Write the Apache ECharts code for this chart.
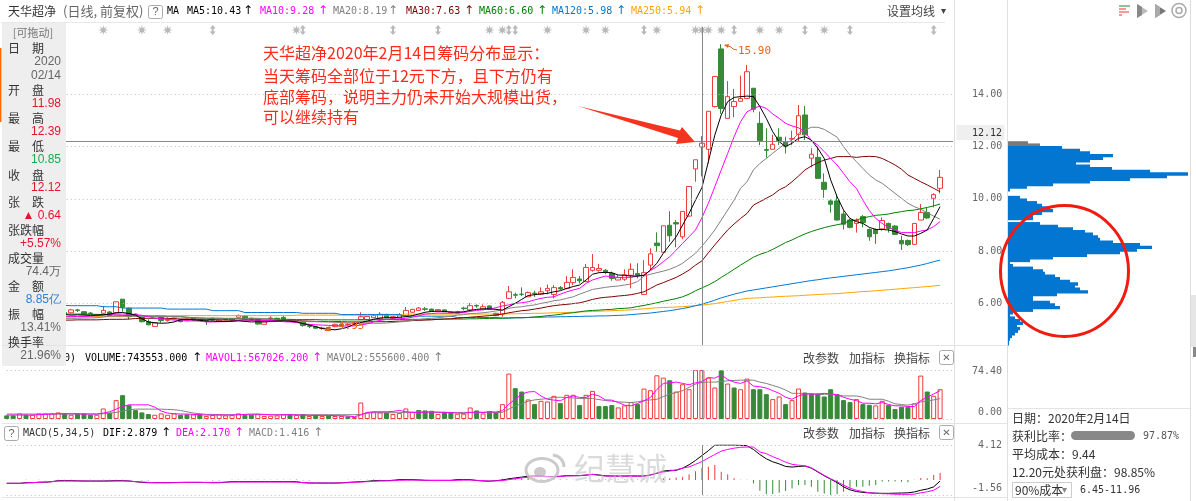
<!DOCTYPE html>
<html><head><meta charset="utf-8">
<style>html,body{margin:0;padding:0;background:#fff}#c{width:1196px;height:501px}</style>
<script src="https://cdn.jsdelivr.net/npm/echarts@6/dist/echarts.min.js"></script>
</head><body><div id="c"></div>
<script>
const open=[5.70,5.66,5.60,5.68,5.60,5.64,5.68,5.66,5.62,5.66,
5.65,5.76,5.69,5.64,5.54,5.63,5.68,5.65,6.17,5.82,
5.60,5.47,5.31,5.13,5.47,5.36,5.42,5.40,5.36,5.44,
5.37,5.35,5.44,5.32,5.38,5.38,5.48,5.53,5.44,5.40,
5.21,5.43,5.44,5.47,5.35,5.36,5.29,5.15,5.12,5.05,
5.06,5.12,5.20,5.19,5.22,5.39,5.39,5.46,5.44,5.59,
5.44,5.46,5.54,5.67,5.74,5.80,5.79,5.72,5.76,5.65,
5.63,5.83,5.76,5.93,5.79,5.91,5.63,5.60,6.20,6.34,
6.36,6.26,6.40,6.36,6.49,6.35,6.61,6.58,6.80,6.94,
6.84,7.27,7.27,7.27,7.15,6.90,6.93,7.08,7.15,6.35,
7.47,8.31,7.96,8.99,9.09,8.55,9.34,11.14,11.98,11.89,
13.52,15.72,13.07,13.52,13.72,13.83,14.22,12.88,11.88,11.89,
12.35,12.18,12.28,12.46,13.20,11.55,11.58,10.63,9.92,9.92,
9.42,9.19,9.06,9.32,8.83,8.83,8.85,9.06,8.96,8.41,
8.41,8.26,9.19,9.48,10.02,10.40];
const close=[5.66,5.64,5.68,5.62,5.66,5.70,5.72,5.70,5.66,5.60,
5.76,5.74,5.60,5.62,5.56,5.74,5.55,6.07,5.86,5.50,
5.55,5.31,5.19,5.26,5.35,5.40,5.44,5.31,5.40,5.37,
5.39,5.33,5.37,5.37,5.40,5.41,5.55,5.40,5.37,5.22,
5.31,5.45,5.37,5.37,5.38,5.33,5.16,5.13,5.06,5.07,
5.09,5.21,5.17,5.21,5.24,5.50,5.51,5.54,5.59,5.46,
5.50,5.57,5.74,5.78,5.83,5.78,5.72,5.77,5.69,5.67,
5.69,5.81,5.92,5.91,5.88,5.78,5.54,6.05,6.45,6.32,
6.35,6.42,6.38,6.45,6.58,6.61,6.56,6.81,7.00,6.87,
7.38,7.38,7.34,7.19,6.96,6.99,7.10,7.31,7.08,7.18,
7.90,8.21,8.97,8.59,9.04,9.52,10.47,11.49,12.12,13.34,
14.67,13.45,13.90,13.71,13.83,14.85,13.42,12.22,11.85,12.08,
12.22,11.99,12.30,13.17,12.44,11.70,10.78,10.36,9.79,9.19,
9.03,8.91,9.17,9.09,8.55,8.67,9.17,8.87,8.64,8.28,
8.25,9.06,9.48,9.27,10.16,10.82];
const low=[5.63,5.60,5.58,5.60,5.58,5.62,5.64,5.62,5.58,5.56,
5.63,5.68,5.58,5.58,5.50,5.60,5.50,5.62,5.69,5.40,
5.52,5.28,5.17,5.13,5.27,5.31,5.40,5.29,5.34,5.35,
5.35,5.18,5.35,5.30,5.36,5.36,5.46,5.38,5.35,5.20,
5.20,5.35,5.35,5.34,5.33,5.30,5.12,5.06,5.04,5.00,
4.95,5.10,5.14,5.15,5.18,5.39,5.37,5.44,5.42,5.44,
5.42,5.44,5.52,5.65,5.72,5.72,5.70,5.70,5.67,5.63,
5.61,5.74,5.74,5.84,5.77,5.76,5.52,5.50,6.20,6.20,
6.29,6.26,6.26,6.33,6.36,6.20,6.52,6.54,6.71,6.77,
6.84,7.22,7.22,7.12,6.87,6.90,6.87,6.58,6.96,6.35,
7.28,7.98,7.96,8.36,8.15,8.46,9.32,10.65,10.85,11.35,
13.49,13.24,13.07,13.11,13.72,13.83,13.30,12.05,11.57,11.89,
12.05,11.73,12.05,12.18,12.24,11.20,10.78,10.04,9.47,9.17,
8.83,8.87,8.71,8.91,8.40,8.28,8.78,8.71,8.62,8.05,
8.20,8.26,9.19,9.23,9.67,10.21];
const high=[5.72,5.70,5.72,5.70,5.70,5.74,5.76,5.74,5.68,5.68,
5.80,5.80,5.71,5.68,5.60,5.91,5.72,6.07,6.17,5.85,
5.62,5.50,5.40,5.28,5.49,5.47,5.47,5.42,5.42,5.46,
5.41,5.37,5.46,5.39,5.42,5.43,5.58,5.55,5.46,5.42,
5.33,5.52,5.46,5.55,5.40,5.38,5.31,5.22,5.14,5.12,
5.12,5.23,5.24,5.25,5.30,5.67,5.53,5.60,5.67,5.61,
5.52,5.64,5.87,5.80,5.87,5.87,5.81,5.79,5.78,5.70,
5.72,5.88,6.02,5.97,5.97,5.93,5.65,6.10,6.67,6.42,
6.62,6.46,6.49,6.62,6.73,6.71,6.67,7.05,7.31,7.05,
7.51,7.89,7.51,7.32,7.22,7.09,7.31,7.54,7.54,7.66,
8.11,8.72,8.97,9.53,9.19,9.52,10.47,11.49,12.39,13.34,
14.67,15.90,14.49,14.19,14.70,15.11,14.22,13.33,12.69,12.44,
12.69,12.37,12.60,13.58,13.54,11.93,11.99,10.97,9.98,10.17,
9.55,9.25,9.25,9.38,8.87,8.87,9.29,9.09,9.00,8.59,
8.45,9.06,9.80,9.67,10.21,11.10];
const ma5=[5.62,5.62,5.63,5.63,5.64,5.64,5.64,5.62,5.60,5.58,
5.56,5.57,5.56,5.55,5.56,5.57,5.60,5.65,5.66,5.62,
5.56,5.42,5.30,5.27,5.25,5.26,5.30,5.38,5.40,5.38,
5.36,5.34,5.33,5.32,5.32,5.33,5.34,5.32,5.30,5.31,
5.30,5.32,5.33,5.34,5.33,5.30,5.24,5.18,5.12,5.05,
5.02,5.00,5.04,5.10,5.22,5.28,5.33,5.40,5.45,5.46,
5.46,5.48,5.50,5.54,5.60,5.67,5.70,5.71,5.70,5.68,
5.67,5.69,5.74,5.78,5.80,5.80,5.78,5.75,5.88,6.01,
6.16,6.31,6.34,6.37,6.39,6.45,6.49,6.58,6.65,6.71,
6.90,7.12,7.18,7.19,7.18,7.09,7.08,7.05,7.05,7.08,
7.28,7.54,7.92,8.24,8.55,9.00,9.44,9.95,10.43,11.42,
12.43,13.20,13.71,13.87,13.90,13.92,13.90,13.52,13.07,12.56,
12.18,11.99,12.12,12.31,12.37,12.24,11.93,11.54,10.72,10.08,
9.57,9.25,9.13,9.06,8.91,8.83,8.83,8.81,8.75,8.66,
8.58,8.58,8.68,8.81,9.25,9.70];
const ma10=[5.55,5.55,5.54,5.54,5.53,5.53,5.52,5.52,5.51,5.50,
5.50,5.51,5.51,5.52,5.54,5.56,5.59,5.60,5.60,5.60,
5.58,5.55,5.50,5.45,5.42,5.40,5.37,5.35,5.34,5.34,
5.33,5.30,5.30,5.31,5.31,5.32,5.36,5.38,5.37,5.37,
5.36,5.36,5.33,5.31,5.30,5.28,5.23,5.21,5.19,5.18,
5.17,5.16,5.15,5.14,5.15,5.18,5.23,5.30,5.36,5.40,
5.41,5.42,5.44,5.48,5.53,5.60,5.62,5.64,5.63,5.64,
5.65,5.66,5.70,5.74,5.76,5.80,5.84,5.91,5.95,6.01,
6.03,6.07,6.14,6.20,6.24,6.26,6.36,6.45,6.52,6.58,
6.77,6.90,6.98,7.05,7.03,7.00,7.00,7.00,7.05,7.09,
7.26,7.41,7.60,7.79,8.04,8.30,8.55,8.81,9.28,9.83,
10.46,11.10,11.73,12.37,12.94,13.32,13.45,13.54,13.45,13.24,
13.07,12.88,12.78,12.71,12.56,12.22,12.05,11.80,11.54,11.29,
10.97,10.65,10.40,9.95,9.55,9.25,9.06,8.91,8.81,8.71,
8.71,8.71,8.77,8.81,8.94,9.13];
const ma20=[5.48,5.47,5.47,5.46,5.46,5.45,5.45,5.45,5.44,5.44,
5.44,5.44,5.45,5.45,5.46,5.49,5.52,5.52,5.52,5.52,
5.52,5.52,5.52,5.52,5.51,5.51,5.50,5.50,5.47,5.45,
5.45,5.44,5.44,5.44,5.44,5.44,5.44,5.44,5.44,5.44,
5.43,5.41,5.38,5.36,5.34,5.34,5.32,5.31,5.31,5.30,
5.30,5.29,5.27,5.26,5.25,5.25,5.25,5.25,5.25,5.26,
5.28,5.30,5.32,5.36,5.39,5.42,5.44,5.46,5.49,5.52,
5.56,5.58,5.62,5.63,5.65,5.68,5.72,5.75,5.82,5.86,
5.88,5.92,5.95,6.01,6.05,6.11,6.14,6.20,6.26,6.36,
6.45,6.54,6.58,6.62,6.65,6.67,6.71,6.75,6.84,7.05,
7.12,7.18,7.24,7.31,7.41,7.54,7.73,7.92,8.19,8.49,
8.81,9.19,9.57,9.95,10.40,10.65,11.10,11.35,11.54,11.74,
11.93,12.12,12.24,12.50,12.63,12.73,12.73,12.65,12.50,12.35,
11.99,11.67,11.42,11.16,10.91,10.72,10.59,10.40,10.21,10.02,
9.83,9.70,9.60,9.47,9.34,9.22];
const ma30=[5.36,5.36,5.36,5.36,5.36,5.36,5.37,5.37,5.37,5.37,
5.37,5.38,5.38,5.38,5.38,5.39,5.40,5.40,5.40,5.41,
5.43,5.44,5.44,5.44,5.44,5.44,5.42,5.41,5.41,5.41,
5.40,5.40,5.39,5.38,5.38,5.37,5.37,5.37,5.37,5.37,
5.36,5.36,5.36,5.35,5.35,5.35,5.34,5.33,5.32,5.32,
5.31,5.31,5.31,5.30,5.30,5.30,5.30,5.31,5.31,5.31,
5.32,5.33,5.34,5.35,5.36,5.37,5.38,5.40,5.41,5.42,
5.44,5.46,5.48,5.50,5.52,5.54,5.57,5.60,5.65,5.69,
5.73,5.75,5.79,5.83,5.88,5.92,5.95,5.97,6.00,6.03,
6.09,6.16,6.21,6.24,6.26,6.29,6.31,6.34,6.39,6.45,
6.58,6.71,6.80,6.90,7.00,7.13,7.28,7.47,7.63,7.94,
8.24,8.53,8.81,9.04,9.25,9.44,9.76,9.89,10.02,10.15,
10.34,10.46,10.65,10.87,11.10,11.25,11.38,11.48,11.54,11.61,
11.61,11.61,11.58,11.61,11.62,11.61,11.54,11.42,11.29,11.13,
10.91,10.78,10.65,10.53,10.40,10.27];
const ma60=[5.63,5.63,5.62,5.62,5.62,5.61,5.61,5.61,5.60,5.60,
5.60,5.60,5.60,5.59,5.59,5.58,5.57,5.56,5.55,5.54,
5.53,5.53,5.52,5.52,5.52,5.51,5.50,5.50,5.48,5.46,
5.45,5.44,5.44,5.44,5.43,5.43,5.43,5.42,5.42,5.42,
5.41,5.41,5.41,5.40,5.40,5.39,5.39,5.39,5.39,5.38,
5.38,5.38,5.38,5.38,5.38,5.38,5.38,5.38,5.39,5.39,
5.39,5.39,5.40,5.40,5.40,5.40,5.40,5.40,5.41,5.41,
5.41,5.41,5.42,5.42,5.43,5.43,5.44,5.44,5.45,5.46,
5.46,5.47,5.49,5.51,5.54,5.56,5.59,5.63,5.65,5.69,
5.72,5.74,5.75,5.77,5.78,5.81,5.82,5.84,5.89,5.93,
5.98,6.03,6.09,6.14,6.19,6.26,6.36,6.49,6.60,6.71,
6.84,7.00,7.15,7.31,7.47,7.62,7.77,7.88,7.96,8.07,
8.20,8.33,8.43,8.55,8.66,8.75,8.83,8.90,8.96,9.01,
9.06,9.17,9.19,9.27,9.32,9.37,9.39,9.42,9.47,9.51,
9.55,9.57,9.62,9.67,9.73,9.80];
const ma120=[5.97,5.97,5.96,5.96,5.95,5.95,5.94,5.94,5.93,5.93,
5.92,5.92,5.92,5.92,5.92,5.88,5.88,5.88,5.83,5.83,
5.83,5.83,5.83,5.83,5.83,5.79,5.79,5.79,5.79,5.79,
5.79,5.79,5.73,5.73,5.73,5.73,5.73,5.66,5.66,5.66,
5.66,5.66,5.66,5.66,5.66,5.66,5.63,5.63,5.63,5.63,
5.63,5.63,5.58,5.58,5.58,5.58,5.58,5.58,5.58,5.58,
5.58,5.58,5.52,5.52,5.52,5.52,5.52,5.52,5.52,5.52,
5.47,5.47,5.47,5.47,5.47,5.47,5.47,5.45,5.45,5.46,
5.46,5.47,5.48,5.48,5.49,5.49,5.50,5.50,5.51,5.51,
5.52,5.52,5.53,5.53,5.54,5.55,5.56,5.58,5.60,5.62,
5.64,5.67,5.70,5.73,5.77,5.81,5.86,5.92,5.98,6.05,
6.13,6.22,6.29,6.36,6.42,6.48,6.52,6.56,6.60,6.64,
6.68,6.72,6.76,6.80,6.84,6.88,6.91,6.95,6.98,7.01,
7.04,7.07,7.10,7.13,7.16,7.19,7.22,7.25,7.29,7.33,
7.37,7.42,7.47,7.53,7.60,7.66];
const ma250=[5.50,5.50,5.50,5.50,5.50,5.50,5.50,5.50,5.50,5.50,
5.50,5.50,5.50,5.50,5.50,5.50,5.50,5.50,5.50,5.54,
5.54,5.54,5.54,5.54,5.54,5.54,5.54,5.54,5.54,5.54,
5.54,5.54,5.54,5.54,5.54,5.54,5.54,5.54,5.54,5.54,
5.54,5.54,5.54,5.54,5.54,5.56,5.56,5.56,5.56,5.56,
5.56,5.56,5.56,5.56,5.56,5.56,5.56,5.56,5.56,5.56,
5.56,5.56,5.60,5.60,5.60,5.60,5.60,5.60,5.60,5.60,
5.60,5.60,5.60,5.60,5.60,5.60,5.60,5.60,5.61,5.61,
5.62,5.62,5.63,5.63,5.64,5.65,5.65,5.66,5.67,5.68,
5.69,5.70,5.71,5.72,5.73,5.74,5.75,5.76,5.78,5.80,
5.82,5.84,5.85,5.86,5.87,5.88,5.90,5.92,5.94,5.97,
6.00,6.04,6.08,6.12,6.16,6.20,6.21,6.22,6.24,6.25,
6.27,6.28,6.29,6.30,6.32,6.33,6.35,6.36,6.37,6.38,
6.40,6.42,6.44,6.46,6.47,6.49,6.51,6.53,6.55,6.57,
6.59,6.61,6.63,6.65,6.67,6.70];
const volume=[5.5,5.5,8.5,6.5,6.5,8.5,8.5,8.5,10,8.5,
6.5,8.5,8.5,6.5,6.5,16,9.5,28.7,36.2,21,
13.5,10,7.5,6.5,8.5,6.5,8.5,6.5,7,7,
7.5,4.5,6,7.5,5.5,6,8.5,6.5,6.5,7.5,
4.5,5,5.5,7,7.5,6,7.5,4.5,6,4.5,
5.5,4.5,4.5,4,3,25,10,11,10,10,
7.5,9,16,11,13.5,13,12.5,7.5,11,10,
8,8,17.5,13,8.5,12,10,22.6,68.9,46.8,
41.7,29.7,22.6,27.6,26.6,35.2,24.1,36.7,36.7,21.1,
36.7,42.7,19.6,19.6,21.1,17.6,20.6,25.6,22.6,46.2,
43.7,66.4,62.8,58.8,41.7,52.8,45.2,74.4,74.36,62.8,
47.8,73.9,53.8,47.8,45.2,61.3,45.2,45.2,37.7,30.2,
34.2,22.6,28.7,46.2,40.2,38.7,38.7,34.2,45.2,37.7,
28.7,25.6,30.2,22.6,21.6,20.6,27.6,21.6,15.1,18.6,
18.6,23.6,65.9,41.7,35.2,45.2];
const volumeSide=('GGRGRRRRRG'+'RGGGRRGRGG'+'GGGRRRRGGR'+'GRRRRRRGGR'+'RRRRGRGRGR'+'GRRGRRRRRG'+'RRRRGGGRGG'+'RRRGRGGRRG'+'GRGRRRGRRG'+'RRGGGRRRGR'+'RRRGRRRRRR'+'RGRGRRGGGR'+'RGRRGGGGGG'+'GGRGGRRGGG'+'GRRGRR').split('');
const mavol1=[6,6,6,6,6,6.5,7,7.5,8,8,
8,8,7.5,7.5,7.5,9,11,15,19,21.5,
21.5,21.5,21.5,18,12,9,8,7.5,7.5,7,
6.5,6,6,6,6,6,6.5,7,7.5,7.5,
7,6.5,6,6.5,6.5,6,6,5.5,5.5,5.5,
5.5,5,5,4.5,3.5,6,10,11,11,11,
11.5,13,11,10,10,10.5,10.5,10.5,10,9.5,
9,8.5,10,10.5,10,11,10.5,12.5,22.6,30,
37.7,41,41.7,35,30,28.7,27.6,32.7,35,32.7,
32.7,37.7,35,29,28.7,25,21,20,23.6,27.6,
32.7,45,54,55,56,54,52,55,56.7,63,
62,67,60,56,54,58,50,49,47,43,
39,33,30,35,38,38,38,39,38,37,
33,30,28,24,24,23,25,22,20,20,
19,19,28,33,38,43];
const mavol2=[7.5,7.5,7.5,7.5,7.5,7.5,7.5,7.5,7.5,7.5,
7.5,7.5,7.5,7.5,7.5,8,9,10,12,14,
15,15,15,15,15,14.5,14,13,11,9,
8,7,7,6.5,6.5,6.5,6.5,6.5,6.5,6.5,
6.5,6.5,6.5,6.5,6.5,6.5,6.5,6.5,6.5,6.5,
6.5,6.5,6.5,6.5,6.5,7,9,9.5,9.5,9.5,
9.5,9.5,10,10,10.5,10.5,10.5,10,10,10,
10,10,10,10,10,10,10,10,15,20,
23,27,29,30,31,33,33,32.5,32,31,
31,31,29.5,28,27,26,25.5,25,26,28,
29,30,34,38,40,43,48,53,55.56,56,
56,57,58,58.5,59,59,59,56,54,51,
48,44,39,39,39,38,37,37.5,38,36.5,
35,35,35,33,30,30,30,27,23,22,
21,23,26,27.5,29,31];
const dif=[-0.38,-0.38,-0.38,-0.31,-0.31,-0.25,-0.25,-0.19,-0.07,-0.07,
-0.07,-0.09,-0.11,-0.11,-0.11,-0.11,-0.09,-0.07,-0.07,-0.11,
-0.19,-0.27,-0.31,-0.31,-0.31,-0.31,-0.29,-0.27,-0.27,-0.27,
-0.27,-0.29,-0.31,-0.31,-0.25,-0.19,-0.19,-0.19,-0.19,-0.19,
-0.19,-0.19,-0.19,-0.19,-0.19,-0.19,-0.31,-0.35,-0.35,-0.35,
-0.35,-0.35,-0.33,-0.27,-0.23,-0.19,-0.15,-0.07,-0.07,-0.07,
-0.03,0.05,0.05,0.05,0.02,-0.03,-0.03,-0.03,-0.03,-0.03,
0.05,0.05,0.05,-0.05,-0.11,-0.13,-0.07,0.01,0.15,0.25,
0.35,0.45,0.50,0.50,0.42,0.40,0.45,0.52,0.52,0.52,
0.58,0.67,0.60,0.50,0.48,0.48,0.48,0.48,0.48,0.48,
0.60,0.80,1.05,1.14,1.14,1.40,1.80,2.30,2.879,3.45,
4.10,4.12,4.12,4.12,4.08,4.04,3.60,3.00,2.50,2.15,
1.90,1.60,1.53,1.60,1.65,1.40,0.95,0.50,0.10,-0.30,
-0.80,-1.15,-1.35,-1.45,-1.50,-1.54,-1.56,-1.56,-1.54,-1.52,
-1.50,-1.40,-1.20,-1.05,-0.80,-0.11];
const dea=[-0.38,-0.38,-0.38,-0.34,-0.30,-0.27,-0.23,-0.19,-0.12,-0.11,
-0.11,-0.11,-0.11,-0.13,-0.13,-0.13,-0.13,-0.11,-0.11,-0.12,
-0.19,-0.23,-0.27,-0.31,-0.31,-0.31,-0.31,-0.29,-0.27,-0.27,
-0.27,-0.28,-0.27,-0.27,-0.25,-0.23,-0.23,-0.23,-0.23,-0.23,
-0.23,-0.23,-0.23,-0.23,-0.23,-0.25,-0.29,-0.31,-0.35,-0.35,
-0.35,-0.35,-0.33,-0.31,-0.26,-0.23,-0.19,-0.15,-0.10,-0.09,
-0.07,-0.03,-0.01,-0.01,-0.01,-0.03,-0.05,-0.05,-0.05,-0.05,
-0.03,0,0,-0.03,-0.07,-0.11,-0.09,-0.07,0.05,0.15,
0.25,0.33,0.40,0.43,0.37,0.37,0.42,0.48,0.50,0.52,
0.60,0.67,0.55,0.47,0.45,0.45,0.45,0.45,0.45,0.45,
0.60,0.80,0.95,1.05,1.20,1.40,1.55,1.85,2.17,2.60,
3.00,3.40,3.60,3.75,3.85,3.88,3.88,3.30,3.10,2.75,
2.45,2.10,1.85,1.75,1.68,1.45,1.00,0.55,0.15,-0.20,
-0.60,-0.95,-1.20,-1.35,-1.50,-1.55,-1.60,-1.62,-1.66,-1.68,
-1.68,-1.66,-1.50,-1.38,-1.20,-0.75];
const macd=[0.02,0.02,0,0.04,0,0.03,-0.02,0,0.05,0.03,
0.04,0.02,0,0.04,0.02,0.04,0.04,0.04,0.04,0.02,
0,-0.04,-0.04,0,0,0,0.02,0.02,0,0,
0,-0.02,-0.04,-0.04,0,0.04,0.04,0.04,0.04,0.04,
0.04,0.04,0.04,0.04,0.04,0.06,-0.04,-0.04,0,0,
0,0,0,0.04,0.03,0.04,0.04,0.08,0.03,0.02,
0.04,0.08,0.06,0.06,0.03,0,0.02,0.02,0.02,0.02,
0.08,0.05,0.05,-0.02,-0.04,-0.02,0.02,0.16,0.20,0.20,
0.20,0.24,0.20,0.14,0.10,0.06,0.06,0.08,0.04,0,
-0.04,0,0.10,0.06,0.06,0.06,0.06,0.06,0.06,0.06,
0,0,0.20,0.20,0.30,0.40,0.67,1.05,1.416,1.57,
1.76,0.98,0.67,0.20,0.03,0.03,-0.39,-1.25,-1.68,-1.65,
-1.49,-1.29,-0.98,-0.59,-0.59,-0.78,-1.37,-1.57,-1.76,-1.68,
-1.37,-0.98,-0.78,-0.78,-0.67,-0.59,-0.16,-0.16,-0.16,-0.20,
-0.27,0.05,0.23,0.20,0.59,0.82];
const starDays=[15,21,25,45,75,77,84,90,93,101,107,108,109,111,117,120,127];
const noticeDays=[32,46,60,67,78,79,99,113,124,131,144];
const chipPrices=[12.15,12.05,11.95,11.85,11.75,11.65,11.55,11.45,11.35,11.25,
11.15,11.05,10.95,10.85,10.75,10.65,10.55,10.45,10.35,10.25,
10.15,10.05,9.95,9.85,9.75,9.65,9.55,9.45,9.35,9.25,
9.15,9.05,8.95,8.85,8.75,8.65,8.55,8.45,8.35,8.25,
8.15,8.05,7.95,7.85,7.75,7.65,7.55,7.45,7.35,7.25,
7.15,7.05,6.95,6.85,6.75,6.65,6.55,6.45,6.35,6.25,
6.15,6.05,5.95,5.85,5.75,5.65,5.55,5.45,5.35,5.25,
5.15,5.05,4.95,4.85,4.75,4.65,4.55,4.45];
const chipShares=[20,32,54,72,82,105,95,82,68,82,
104,142,180,159,122,82,45,19,2,0,
0,12,19,29,34,42,45,34,25,25,
0,32,50,65,77,85,90,92,105,132,
144,129,112,79,45,22,2,5,25,35,
37,47,52,62,70,67,72,80,49,25,
25,42,47,52,25,5,2,7,12,15,
9,12,10,7,4,2,1,1];
const priceTicks=[6,8,10,12,14];
const maLegend=[['MA5:10.43',187,248,'#000'],['MA10:9.28',260,323,'#ff00ff'],['MA20:8.19',333,393,'#808080'],['MA30:7.63',406,469,'#800000'],['MA60:6.60',479,542,'#008000'],['MA120:5.98',552,621,'#0078d4'],['MA250:5.94',631,700,'#ffa500']];
const quoteRows=[['2020','#666'],['02/14','#666'],null,['11.98','#e8132d'],null,['12.39','#e8132d'],null,['10.85','#1fa84a'],null,['12.12','#e8132d'],null,['▲ 0.64','#e8132d'],null,['+5.57%','#e8132d'],null,['74.4万','#666'],null,['8.85亿','#2a7fdc'],null,['13.41%','#666'],null,['21.96%','#666']];
const cats=Array.from({length:148},(_,i)=>String(i));

const CJK='"Noto Sans CJK SC"',MONO='"DejaVu Sans Mono"',SANS='"Liberation Sans"',ARW='"DejaVu Sans"';
const g=[];
function T(x,y,text,fill,size,font,align,z){g.push({type:'text',x,y,z:z||100,silent:true,style:{text,fill:fill||'#444',font:(size||12)+'px '+(font||CJK),align:align||'left',verticalAlign:'middle'}});}
function R(x,y,w,h,fill,stroke,r){g.push({type:'rect',z:95,silent:true,shape:{x,y,width:w,height:h,r:r||0},style:{fill:fill||'none',stroke:stroke||'none',lineWidth:1}});}
function L(x1,y1,x2,y2,c,w){g.push({type:'line',z:96,silent:true,shape:{x1,y1,x2,y2},style:{stroke:c,lineWidth:w||1}});}
function P(pts,fill){g.push({type:'polygon',z:97,silent:true,shape:{points:pts},style:{fill}});}
function arrow(x,y,c){T(x,y,'↑',c,12,ARW,'center');}

// frame
L(0.5,22.5,945,22.5,'#e8e8e8');
L(954.5,0,954.5,501,'#e0e0e0');L(1007.5,0,1007.5,501,'#e0e0e0');L(1190.5,0,1190.5,501,'#dcdcdc');
L(2,345.5,954,345.5,'#e4e4e4');L(2,423.5,954,423.5,'#e4e4e4');L(2,497.5,954,497.5,'#e4e4e4');L(955,345.5,1007,345.5,'#e4e4e4');L(955,423.5,1007,423.5,'#e4e4e4');L(955,497.5,1007,497.5,'#e4e4e4');
L(1007,408.5,1190,408.5,'#e4e4e4');
R(1191,295,5,52,'#e6e6e6');R(1193,347,3,10,'#888');
// header
T(8,11,'天华超净','#333',12);T(63,11,'(日线, 前复权)','#666',13);
R(148.5,5.5,14,13,'#fff','#aaa',2);T(155.5,12,'?','#666',11,SANS,'center');
T(167,11,'MA','#000',10,MONO);
maLegend.forEach(m=>{T(m[1],11,m[0],m[3],10,MONO);arrow(m[2],11,m[3]);});
T(887,11,'设置均线','#444',12);T(941,11,'▾','#444',10,ARW);
// top right icons
L(1119,6,1130,6,'#1a8a2a');L(1119,9,1126,9,'#e33');L(1119,12,1129,12,'#e33');L(1119,15,1122,15,'#e33');
P([[1137,4],[1148,11],[1137,18]],'#bbb');P([[1137,4],[1142,7],[1142,15],[1137,18]],'#888');
P([[1155,4],[1166,11],[1155,18]],'#777');P([[1155,4],[1160,7],[1160,15],[1155,18]],'#aaa');
g.push({type:'ring',z:97,silent:true,shape:{cx:1179,cy:10.5,r:7,r0:3},style:{fill:'#fff',stroke:'#aaa',lineWidth:1.5}});
// left quote panel
R(2,23,64,343,'#eeeeee');
L(0.7,48,0.7,122,'#ff6a00',1.5);
T(33,33,'[可拖动]','#777',11,CJK,'center');
[['日','期',48],['开','盘',90],['最','高',118],['最','低',146],['收','盘',175],['张','跌',202],['金','额',286],['振','幅',314]].forEach(r=>{T(8,r[2],r[0],'#333',12);T(32,r[2],r[1],'#333',12);});
T(8,230,'张跌幅','#333',12);T(8,258,'成交量','#333',12);T(8,342,'换手率','#333',12);
quoteRows.forEach((r,k)=>{if(r)T(61,62+k*(294/21),r[0],r[1],12,SANS,'right');});
// annotation
['天华超净2020年2月14日筹码分布显示\uFF1A','当天筹码全部位于12元下方\uFF0C且下方仍有','底部筹码\uFF0C说明主力仍未开始大规模出货\uFF0C','可以继续持有'].forEach((s,k)=>T(263,[53,76,97,117][k],s,'#ff2a1a',16));
P([[578,106],[680,130.5],[682,127],[695,142],[676,144],[678,138]],'#f5331f');
// high / low notes
T(738,51,'15.90','#e8641a',11,MONO);
g.push({type:'polyline',z:97,silent:true,shape:{points:[[725,45],[731,47],[733,49],[737,50]]},style:{stroke:'#e8641a',fill:'none'}});
P([[724,45],[729,44],[728,48]],'#e8641a');
T(338,326,'4.95','#e8641a',11,MONO);P([[324,331],[330,326],[331,331]],'#e8641a');
// indicator headers
T(76,358,'VOL(5,10)','#000',10,MONO,'right',90);
T(85,358,'VOLUME:743553.000','#000',10,MONO);arrow(197,358,'#000');
T(206,358,'MAVOL1:567026.200','#ff00ff',10,MONO);arrow(317,358,'#ff00ff');
T(327,358,'MAVOL2:555600.400','#808080',10,MONO);arrow(438,358,'#808080');
R(4.5,426.5,14,14,'#fff','#aaa',2);T(11.5,434,'?','#666',11,SANS,'center');
T(23,433,'MACD(5,34,5)','#333',10,MONO);
T(103,433,'DIF:2.879','#000',10,MONO);arrow(166,433,'#000');
T(176,433,'DEA:2.170','#ff00ff',10,MONO);arrow(239,433,'#ff00ff');
T(249,433,'MACD:1.416','#808080',10,MONO);arrow(318,433,'#808080');
[358,433].forEach(y=>{T(803,y,'改参数','#444',12);T(849,y,'加指标','#444',12);T(894,y,'换指标','#444',12);
 R(939.5,y-7.5,14,14,'#fff','#aaa',2);T(946.5,y,'✕','#666',10,ARW,'center');});
// indicator scale labels
T(1002,371,'74.40','#666',10,MONO,'right');T(1002,412,'0.00','#666',10,MONO,'right');
T(1002,445,'4.12','#666',10,MONO,'right');T(1002,488,'-1.56','#666',10,MONO,'right');
R(956.5,125,48,15,'#efefef');T(1002,133,'12.12','#333',10,MONO,'right');
// chip panel info
T(1012,418,'日期\uFF1A2020年2月14日','#333',12);T(1012,436,'获利比率\uFF1A','#333',12);
R(1071,431,64,9,'#888',null,4.5);T(1143,436,'97.87%','#555',10,MONO);
T(1012,454,'平均成本\uFF1A9.44','#333',12);T(1012,472,'12.20元处获利盘\uFF1A98.85%','#333',12);
R(1012.5,482.5,59,15,'#fff','#ccc');T(1015,490,'90%成本','#333',12);T(1062,490,'▾','#888',10,ARW);
T(1080,490,'6.45-11.96','#333',10,MONO);
g.push({type:'ellipse',z:98,silent:true,shape:{cx:1064.5,cy:271,rx:64,ry:65.5},style:{fill:'none',stroke:'#f01c10',lineWidth:3}});
// watermark
g.push({type:'ellipse',z:99,silent:true,shape:{cx:542,cy:470,rx:16,ry:11.5},style:{fill:'rgba(255,255,255,.55)',stroke:'rgba(190,190,190,.8)',lineWidth:3}});
g.push({type:'ellipse',z:99,silent:true,shape:{cx:540,cy:472,rx:6,ry:5},style:{fill:'rgba(180,180,180,.7)'}});
g.push({type:'arc',z:99,silent:true,shape:{cx:552,cy:467,r:12,startAngle:-1.5,endAngle:0},style:{fill:'none',stroke:'rgba(190,190,190,.8)',lineWidth:3}});
T(574,468,'纪慧诚','rgba(195,195,195,.62)',31);

const candleData=open.map((o,i)=>[o,close[i],low[i],high[i]]);
const CROSS=108, LEFT=3.5, WIDTH=952.7, RED='#ee3b3b', GREEN='#378a37';
const dot={type:[1,3],color:'#bdbdbd',width:1};
function ml(a){return {silent:true,symbol:'none',animation:false,label:{show:false},emphasis:{disabled:true},data:a};}
function seg(x1,y1,x2,y2,st){return [{coord:[x1,y1],lineStyle:st},{coord:[x2,y2]}];}
function lineS(name,data,color,xi,mark){const s={name,type:'line',data,xAxisIndex:xi,yAxisIndex:xi,showSymbol:false,symbol:'none',smooth:false,lineStyle:{color,width:1},itemStyle:{color},silent:true,z:4};if(mark)s.markLine=mark;return s;}
const grey={color:'#888',width:1,type:'solid'};
const option={
 animation:false,
 graphic:{elements:g},
 grid:[
  {left:LEFT,width:WIDTH,top:15.4,height:340.6},
  {left:LEFT,width:WIDTH,top:370,height:49},
  {left:LEFT,width:WIDTH,top:445,height:50},
  {left:1008,width:182,top:141.2,height:204.4}],
 xAxis:[0,1,2].map(i=>({type:'category',gridIndex:i,data:cats,boundaryGap:true,show:false})).concat([{type:'value',gridIndex:3,min:0,max:182,show:false}]),
 yAxis:[
  {type:'value',gridIndex:0,position:'right',min:4,max:17,interval:2,splitLine:{show:false},axisLine:{show:false},axisTick:{show:false},
   axisLabel:{align:'right',margin:46,color:'#666',fontFamily:'DejaVu Sans Mono',fontSize:10,padding:[4,0,0,0],formatter:v=>priceTicks.includes(v)?v.toFixed(2):''}},
  {type:'value',gridIndex:1,min:0,max:74.4,show:false},
  {type:'value',gridIndex:2,min:-1.755,max:4.12,show:false},
  {type:'category',gridIndex:3,inverse:true,data:chipPrices.map(String),show:false}],
 series:[
  {name:'K',type:'candlestick',data:candleData,xAxisIndex:0,yAxisIndex:0,barWidth:5,silent:true,z:3,
   itemStyle:{color:'#fff',color0:GREEN,borderColor:RED,borderColor0:GREEN,borderWidth:1},
   markLine:ml(priceTicks.map(p=>seg(0,p,147,p,dot)).concat([seg(0,12.18,147,12.18,grey),seg(CROSS,16.557,CROSS,4.42,grey)]))},
  lineS('MA250',ma250,'#ffa500',0),
  lineS('MA120',ma120,'#0078d4',0),
  lineS('MA60',ma60,'#008000',0),
  lineS('MA30',ma30,'#800000',0),
  lineS('MA20',ma20,'#808080',0),
  lineS('MA10',ma10,'#ff00ff',0),
  lineS('MA5',ma5,'#000',0),
  {type:'scatter',data:starDays.map(i=>[i,16.44]),xAxisIndex:0,yAxisIndex:0,silent:true,symbol:'path://M5 0L5.8 3.1L8.5 1.5L6.9 4.2L10 5L6.9 5.8L8.5 8.5L5.8 6.9L5 10L4.2 6.9L1.5 8.5L3.1 5.8L0 5L3.1 4.2L1.5 1.5L4.2 3.1Z',symbolSize:10,itemStyle:{color:'#a8a8a8'}},
  {type:'scatter',data:noticeDays.map(i=>[i,16.44]),xAxisIndex:0,yAxisIndex:0,silent:true,symbol:'path://M3 0L6 3.5H4V6.5H6L3 10L0 6.5H2V3.5H0Z',symbolSize:[6,10],itemStyle:{color:'#a8a8a8'}},
  {name:'VOL',type:'bar',xAxisIndex:1,yAxisIndex:1,barWidth:5,silent:true,z:3,
   data:volume.map((v,i)=>({value:v,itemStyle:volumeSide[i]==='R'?{color:'#fff',borderColor:RED,borderWidth:1}:{color:GREEN,borderColor:GREEN,borderWidth:1}})),
   markLine:ml([seg(0,74.4,147,74.4,dot),seg(0,0,147,0,dot),seg(CROSS,74.4,CROSS,0,grey)])},
  lineS('MAVOL2',mavol2,'#808080',1),
  lineS('MAVOL1',mavol1,'#ff00ff',1),
  {name:'MACD',type:'bar',xAxisIndex:2,yAxisIndex:2,barWidth:1,silent:true,z:3,
   data:macd.map(v=>({value:v,itemStyle:{color:v>=0?'#ee3b3b':GREEN}})),
   markLine:ml([seg(0,4.12,147,4.12,dot),seg(0,-1.755,147,-1.755,dot),seg(CROSS,4.12,CROSS,-1.755,grey)])},
  lineS('DIF',dif,'#000',2),
  lineS('DEA',dea,'#ff00ff',2),
  {name:'CHIP',type:'bar',xAxisIndex:3,yAxisIndex:3,barWidth:3.4,silent:true,
   data:chipShares.map((v,i)=>({value:v,itemStyle:{color:chipPrices[i]>12?'#7a7a7a':'#0376d1'}}))}
 ]
};
echarts.init(document.getElementById('c'),null,{renderer:'canvas'}).setOption(option);
</script></body></html>
